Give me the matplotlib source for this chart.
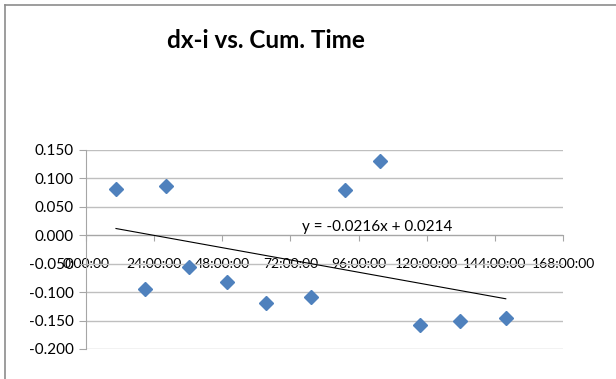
import matplotlib
matplotlib.use("Agg")
import matplotlib.pyplot as plt
from matplotlib.lines import Line2D

# Data (x in days of cumulative time, y = dx-i)
cum_time_days = [0.44, 0.86, 1.17, 1.51, 2.07, 2.64, 3.30, 3.80, 4.32, 4.90, 5.49, 6.16]
dx_i = [0.082, -0.095, 0.086, -0.055, -0.083, -0.119, -0.108, 0.079, 0.131, -0.158, -0.151, -0.145]
trend_slope = -0.0216
trend_intercept = 0.0214
x_ticks_days = [0, 1, 2, 3, 4, 5, 6, 7]
x_tick_labels = ["0:00:00", "24:00:00", "48:00:00", "72:00:00", "96:00:00",
                 "120:00:00", "144:00:00", "168:00:00"]
y_ticks = [-0.2, -0.15, -0.1, -0.05, 0.0, 0.05, 0.1, 0.15]
title = "dx-i vs. Cum. Time"

W, H = 616, 379
fig = plt.figure(figsize=(W / 100, H / 100), dpi=100)
plt.rcParams['font.family'] = ['Lato', 'DejaVu Sans']

L, R, T, B = 86, 563, 150, 349
ax = fig.add_axes([L / W, 1 - B / H, (R - L) / W, (B - T) / H])

grid_c = '#BFBFBF'
axis_c = '#A6A6A6'
fs = 11
ax.set_xlim(0, 7)
ax.set_ylim(-0.2, 0.15)
ax.set_yticks(y_ticks)
ax.set_yticklabels([f"{v:.3f}" for v in y_ticks], fontsize=fs)
ax.set_xticks(x_ticks_days)
ax.set_xticklabels(x_tick_labels, fontsize=12)
ax.yaxis.grid(True, color=grid_c, linewidth=1.0, zorder=0)
ax.set_axisbelow(True)

for s in ['top', 'right']:
    ax.spines[s].set_visible(False)
ax.spines['left'].set_color(axis_c)
ax.spines['bottom'].set_color(axis_c)
ax.spines['bottom'].set_position(('data', 0))
ax.tick_params(axis='y', direction='out', length=5, color=axis_c, pad=4)
ax.tick_params(axis='x', direction='out', length=4, color=axis_c, pad=12.5)
for lab in ax.get_xticklabels():
    lab.set_zorder(1)

# trendline over the range of the data
x0, x1 = min(cum_time_days), max(cum_time_days)
ax.plot([x0, x1], [trend_slope * x0 + trend_intercept, trend_slope * x1 + trend_intercept],
        color='black', linewidth=0.8, zorder=3)

ax.plot(cum_time_days, dx_i, linestyle='none', marker='D', markersize=7.5,
        color='#4F81BD', markeredgecolor='#4F81BD', zorder=4, clip_on=False)

ax.text(3.17, 0.0146, f"y = {trend_slope:.4f}x + {trend_intercept:.4f}",
        fontsize=fs, ha='left', va='center', zorder=2)

fig.text(266 / W, 1 - 40 / H, title, fontsize=17.5, fontweight='bold',
         ha='center', va='center')

# chart-area border (cropped)
fig.add_artist(Line2D([5 / W, 1.0], [1 - 5 / H, 1 - 5 / H], color='#8C8C8C', linewidth=1.2))
fig.add_artist(Line2D([5 / W, 5 / W], [0.0, 1 - 5 / H], color='#8C8C8C', linewidth=1.2))

fig.savefig("out.png", dpi=100)
